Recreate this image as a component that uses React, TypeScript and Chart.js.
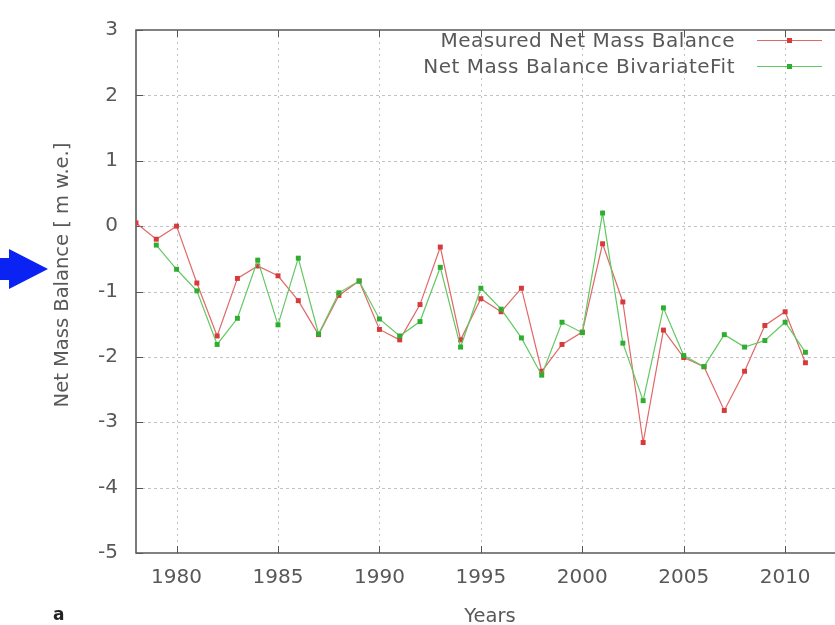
import React, { useEffect, useRef } from "react";
import { Chart, registerables } from "chart.js";

Chart.register(...registerables);

// Annual net mass balance in metres water equivalent
const MEASURED_YEARS = [
  1978, 1979, 1980, 1981, 1982, 1983, 1984, 1985, 1986, 1987, 1988, 1989,
  1990, 1991, 1992, 1993, 1994, 1995, 1996, 1997, 1998, 1999, 2000, 2001,
  2002, 2003, 2004, 2005, 2006, 2007, 2008, 2009, 2010, 2011,
];
const MEASURED_VALUES = [
  0.05, -0.2, 0.0, -0.87, -1.68, -0.8, -0.61, -0.76, -1.14, -1.66, -1.06, -0.84,
  -1.58, -1.74, -1.2, -0.32, -1.74, -1.11, -1.31, -0.95, -2.22, -1.81, -1.62, -0.27,
  -1.16, -3.31, -1.59, -2.01, -2.15, -2.82, -2.22, -1.52, -1.31, -2.09,
];

const FIT_YEARS = [
  1979, 1980, 1981, 1982, 1983, 1984, 1985, 1986, 1987, 1988, 1989,
  1990, 1991, 1992, 1993, 1994, 1995, 1996, 1997, 1998, 1999, 2000, 2001,
  2002, 2003, 2004, 2005, 2006, 2007, 2008, 2009, 2010, 2011,
];
const FIT_VALUES = [
  -0.29, -0.66, -0.99, -1.81, -1.41, -0.52, -1.51, -0.49, -1.65, -1.02, -0.84,
  -1.42, -1.68, -1.46, -0.63, -1.85, -0.95, -1.27, -1.71, -2.28, -1.47, -1.63, 0.2,
  -1.79, -2.67, -1.25, -1.98, -2.15, -1.66, -1.85, -1.75, -1.47, -1.93,
];

const X_TICKS = [1980, 1985, 1990, 1995, 2000, 2005, 2010];
const Y_TICKS = [-5, -4, -3, -2, -1, 0, 1, 2, 3];
const X_MIN = 1978;
const X_MAX = 2013;
const Y_MIN = -5;
const Y_MAX = 3;

const MEASURED_LABEL = "Measured Net Mass Balance";
const FIT_LABEL = "Net Mass Balance BivariateFit";
const X_TITLE = "Years";
const Y_TITLE = "Net Mass Balance [ m w.e.]";
const PANEL_TAG = "a";

const FONT = '"DejaVu Sans", sans-serif';
const TEXT_COLOR = "#585858";
const RED_LINE = "#e06868";
const RED_POINT = "#d63a3a";
const GREEN_LINE = "#62c862";
const GREEN_POINT = "#2eae2e";

const CANVAS_W = 850;
const CANVAS_H = 625;

const toPoints = (xs: number[], ys: number[]) =>
  xs.map((x, i) => ({ x, y: ys[i] }));

// gnuplot-style frame: dashed grid, box border, inward ticks
const framePlugin = {
  id: "gnuFrame",
  beforeDatasetsDraw(chart: any) {
    const { ctx, chartArea, scales } = chart;
    const { left, right, top, bottom } = chartArea;
    const xs = scales.x;
    const ys = scales.y;
    ctx.save();
    ctx.lineWidth = 1;
    ctx.strokeStyle = "#c2c2c2";
    ctx.setLineDash([3, 3]);
    for (const v of Y_TICKS) {
      if (v <= Y_MIN || v >= Y_MAX) continue;
      const py = Math.round(ys.getPixelForValue(v)) + 0.5;
      ctx.beginPath();
      ctx.moveTo(left, py);
      ctx.lineTo(right, py);
      ctx.stroke();
    }
    ctx.setLineDash([2, 4]);
    for (const v of X_TICKS) {
      const px = Math.round(xs.getPixelForValue(v)) + 0.5;
      ctx.beginPath();
      ctx.moveTo(px, top);
      ctx.lineTo(px, bottom);
      ctx.stroke();
    }
    ctx.setLineDash([]);
    ctx.strokeStyle = "#555";
    ctx.lineWidth = 1;
    for (const v of Y_TICKS) {
      const py = Math.round(ys.getPixelForValue(v)) + 0.5;
      ctx.beginPath();
      ctx.moveTo(left, py);
      ctx.lineTo(left + 7, py);
      ctx.moveTo(right, py);
      ctx.lineTo(right - 7, py);
      ctx.stroke();
    }
    for (const v of X_TICKS) {
      const px = Math.round(xs.getPixelForValue(v)) + 0.5;
      ctx.beginPath();
      ctx.moveTo(px, bottom);
      ctx.lineTo(px, bottom - 7);
      ctx.moveTo(px, top);
      ctx.lineTo(px, top + 7);
      ctx.stroke();
    }
    ctx.lineWidth = 1.6;
    ctx.strokeStyle = "#5a5a5a";
    ctx.beginPath();
    ctx.rect(left, top, right - left, bottom - top);
    ctx.stroke();
    ctx.restore();
  },
  afterDraw(chart: any) {
    const { ctx, data } = chart;
    ctx.save();

    // key, top right inside the frame
    ctx.font = `20px ${FONT}`;
    (ctx as any).letterSpacing = "0.5px";
    ctx.fillStyle = TEXT_COLOR;
    ctx.textAlign = "right";
    ctx.textBaseline = "alphabetic";
    const rows = [
      { y: 41, base: 47 },
      { y: 67, base: 73 },
    ];
    data.datasets.forEach((ds: any, i: number) => {
      const row = rows[ds.keyRow ?? i];
      ctx.fillStyle = TEXT_COLOR;
      ctx.fillText(ds.label, 735, row.base);
      ctx.strokeStyle = ds.borderColor;
      ctx.lineWidth = 1.2;
      ctx.beginPath();
      ctx.moveTo(757, row.y - 0.5);
      ctx.lineTo(822, row.y - 0.5);
      ctx.stroke();
      ctx.fillStyle = ds.pointBackgroundColor;
      ctx.fillRect(787, row.y - 3, 5, 5);
    });
    (ctx as any).letterSpacing = "0px";

    // axis titles
    ctx.fillStyle = TEXT_COLOR;
    ctx.textAlign = "center";
    ctx.font = `19.5px ${FONT}`;
    ctx.fillText(X_TITLE, 490, 622);
    ctx.save();
    ctx.translate(68, 275);
    ctx.rotate(-Math.PI / 2);
    ctx.fillText(Y_TITLE, 0, 0);
    ctx.restore();

    // panel tag
    ctx.fillStyle = "#222";
    ctx.textAlign = "left";
    ctx.font = `bold 17px ${FONT}`;
    ctx.fillText(PANEL_TAG, 53, 620);

    // pointer arrow
    ctx.fillStyle = "#0a22f2";
    ctx.beginPath();
    ctx.moveTo(0, 258);
    ctx.lineTo(9, 258);
    ctx.lineTo(9, 249);
    ctx.lineTo(48, 269);
    ctx.lineTo(9, 289);
    ctx.lineTo(9, 280);
    ctx.lineTo(0, 280);
    ctx.closePath();
    ctx.fill();

    ctx.restore();
  },
};

export default function App() {
  const canvasRef = useRef<HTMLCanvasElement | null>(null);

  useEffect(() => {
    const canvas = canvasRef.current;
    if (!canvas) return;
    const chart = new Chart(canvas, {
      type: "line",
      data: {
        datasets: [
          {
            label: MEASURED_LABEL,
            data: toPoints(MEASURED_YEARS, MEASURED_VALUES),
            borderColor: RED_LINE,
            backgroundColor: RED_POINT,
            pointBackgroundColor: RED_POINT,
            pointBorderWidth: 0,
            pointStyle: "rect",
            pointRadius: 3.5,
            borderWidth: 1.2,
            tension: 0,
            fill: false,
            order: 1,
            keyRow: 0,
          } as any,
          {
            label: FIT_LABEL,
            data: toPoints(FIT_YEARS, FIT_VALUES),
            borderColor: GREEN_LINE,
            backgroundColor: GREEN_POINT,
            pointBackgroundColor: GREEN_POINT,
            pointBorderWidth: 0,
            pointStyle: "rect",
            pointRadius: 3.5,
            borderWidth: 1.2,
            tension: 0,
            fill: false,
            order: 0,
            keyRow: 1,
          } as any,
        ],
      },
      options: {
        responsive: false,
        animation: false,
        devicePixelRatio: 1,
        layout: { padding: { top: 24, left: 0, right: 0, bottom: 0 } },
        plugins: {
          legend: { display: false },
          tooltip: { enabled: false },
        },
        scales: {
          x: {
            type: "linear",
            min: X_MIN,
            max: X_MAX,
            grid: { display: false, drawTicks: false },
            border: { display: false },
            afterBuildTicks: (s: any) => {
              s.ticks = X_TICKS.map((value) => ({ value }));
            },
            afterFit: (s: any) => {
              s.height = 72;
            },
            ticks: {
              color: TEXT_COLOR,
              font: { family: FONT, size: 20 },
              padding: 13,
              maxRotation: 0,
              autoSkip: false,
              callback: (v: any) => String(v),
            },
          },
          y: {
            type: "linear",
            min: Y_MIN,
            max: Y_MAX,
            grid: { display: false, drawTicks: false },
            border: { display: false },
            afterBuildTicks: (s: any) => {
              s.ticks = Y_TICKS.map((value) => ({ value }));
            },
            afterFit: (s: any) => {
              s.width = 136;
            },
            ticks: {
              color: TEXT_COLOR,
              font: { family: FONT, size: 20 },
              padding: 18,
              autoSkip: false,
              callback: (v: any) => String(v),
            },
          },
        },
      },
      plugins: [framePlugin],
    });
    return () => chart.destroy();
  }, []);

  return (
    <div
      style={{
        position: "fixed",
        left: 0,
        top: 0,
        width: 835,
        height: 625,
        overflow: "hidden",
        background: "#fff",
      }}
    >
      <canvas
        ref={canvasRef}
        width={CANVAS_W}
        height={CANVAS_H}
        style={{ display: "block", width: CANVAS_W, height: CANVAS_H }}
      />
    </div>
  );
}
